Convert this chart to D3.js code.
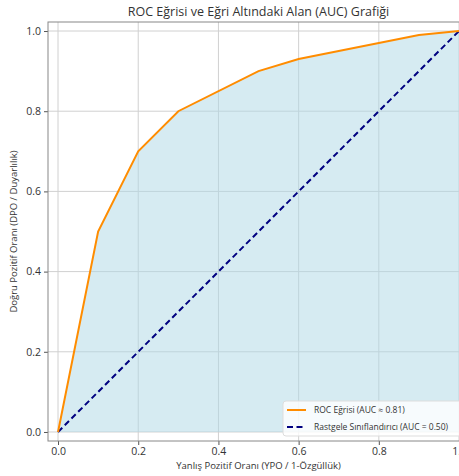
<!DOCTYPE html>
<html>
<head>
<meta charset="utf-8">
<script src="https://cdn.jsdelivr.net/npm/d3@7"></script>
<style>
  body { margin: 0; background: #fff; }
  text { font-family: 'Open Sans', sans-serif; fill: #333; }
</style>
</head>
<body>
<div id="chart"></div>
<script>
// ROC curve points (FPR, TPR)
const fpr = [0.0, 0.1, 0.2, 0.3, 0.5, 0.6, 0.9, 1.0]
const tpr = [0.0, 0.5, 0.7, 0.8, 0.9, 0.93, 0.99, 1.0]
const diagonal = [0, 1]
const tickValues = [0.0, 0.2, 0.4, 0.6, 0.8, 1.0]
const legendLabels = ["ROC Eğrisi (AUC ≈ 0.81)", "Rastgele Sınıflandırıcı (AUC = 0.50)"]

const width = 459, height = 476
const plotLeft = 48, plotTop = 22, plotBottom = 441

const svg = d3.select('#chart').append('svg')
    .attr('width', width)
    .attr('height', height)

const x = d3.scaleLinear().domain([-0.025, 1.025]).range([plotLeft, plotLeft + 1.05 * 401])
const y = d3.scaleLinear().domain([-0.0225, 1.0225]).range([plotBottom, plotTop])

svg.append('clipPath').attr('id', 'plot')
    .append('rect')
    .attr('x', plotLeft).attr('y', plotTop)
    .attr('width', x(1.025) - plotLeft).attr('height', plotBottom - plotTop)

const plot = svg.append('g').attr('clip-path', 'url(#plot)')

// grid
plot.selectAll('.gx').data(tickValues).enter().append('line')
    .attr('x1', d => x(d)).attr('x2', d => x(d))
    .attr('y1', plotTop).attr('y2', plotBottom)
    .attr('stroke', '#d0d0d0').attr('stroke-width', 1)
plot.selectAll('.gy').data(tickValues).enter().append('line')
    .attr('y1', d => y(d)).attr('y2', d => y(d))
    .attr('x1', plotLeft).attr('x2', width + 20)
    .attr('stroke', '#d0d0d0').attr('stroke-width', 1)

const roc = fpr.map((f, i) => [f, tpr[i]])

// area under curve
plot.append('path')
    .datum(roc)
    .attr('d', d3.area().x(d => x(d[0])).y0(y(0)).y1(d => y(d[1])))
    .attr('fill', 'lightblue')
    .attr('fill-opacity', 0.5)

// random classifier
plot.append('path')
    .datum(diagonal.map(v => [v, v]))
    .attr('d', d3.line().x(d => x(d[0])).y(d => y(d[1])))
    .attr('fill', 'none')
    .attr('stroke', 'navy')
    .attr('stroke-width', 2)
    .attr('stroke-dasharray', '6,3.5')

// ROC curve
plot.append('path')
    .datum(roc)
    .attr('d', d3.line().x(d => x(d[0])).y(d => y(d[1])))
    .attr('fill', 'none')
    .attr('stroke', 'darkorange')
    .attr('stroke-width', 2)

// axes
const xAxis = svg.append('g')
    .attr('transform', `translate(0,${plotBottom})`)
    .call(d3.axisBottom(x).tickValues(tickValues).tickFormat(d3.format('.1f')).tickSize(4).tickPadding(3))
const yAxis = svg.append('g')
    .attr('transform', `translate(${plotLeft},0)`)
    .call(d3.axisLeft(y).tickValues(tickValues).tickFormat(d3.format('.1f')).tickSize(4).tickPadding(3))

;[xAxis, yAxis].forEach(a => {
    a.select('.domain').remove()
    a.selectAll('line').attr('stroke', '#555')
    a.selectAll('text').attr('font-size', 10.5).attr('fill', '#333')
        .style('font-family', "'Open Sans', sans-serif")
})

// spines
svg.append('rect')
    .attr('x', plotLeft).attr('y', plotTop)
    .attr('width', x(1.025) - plotLeft).attr('height', plotBottom - plotTop)
    .attr('fill', 'none').attr('stroke', '#888').attr('stroke-width', 1)

// legend
const lg = svg.append('g').attr('transform', 'translate(283,401)')
lg.append('rect')
    .attr('width', 200).attr('height', 35).attr('rx', 3)
    .attr('fill', 'white').attr('fill-opacity', 0.8)
    .attr('stroke', '#ddd')
lg.append('line').attr('x1', 4).attr('x2', 23).attr('y1', 9).attr('y2', 9)
    .attr('stroke', 'darkorange').attr('stroke-width', 2)
lg.append('line').attr('x1', 4).attr('x2', 23).attr('y1', 26).attr('y2', 26)
    .attr('stroke', 'navy').attr('stroke-width', 2).attr('stroke-dasharray', '6,3.5')
lg.selectAll('.lt').data(legendLabels).enter().append('text')
    .attr('x', 31).attr('y', (d, i) => 9 + i * 17)
    .attr('dy', '0.35em')
    .attr('font-size', 8.5)
    .text(d => d)

// titles
svg.append('text')
    .attr('x', x(0.5)).attr('y', 16)
    .attr('text-anchor', 'middle')
    .attr('font-size', 12.5)
    .text('ROC Eğrisi ve Eğri Altındaki Alan (AUC) Grafiği')
svg.append('text')
    .attr('x', x(0.5)).attr('y', 469)
    .attr('text-anchor', 'middle')
    .attr('font-size', 9.5)
    .text('Yanlış Pozitif Oranı (YPO / 1-Özgüllük)')
svg.append('text')
    .attr('transform', `translate(17,${y(0.5)}) rotate(-90)`)
    .attr('text-anchor', 'middle')
    .attr('font-size', 9.5)
    .text('Doğru Pozitif Oranı (DPO / Duyarlılık)')
</script>
</body>
</html>
